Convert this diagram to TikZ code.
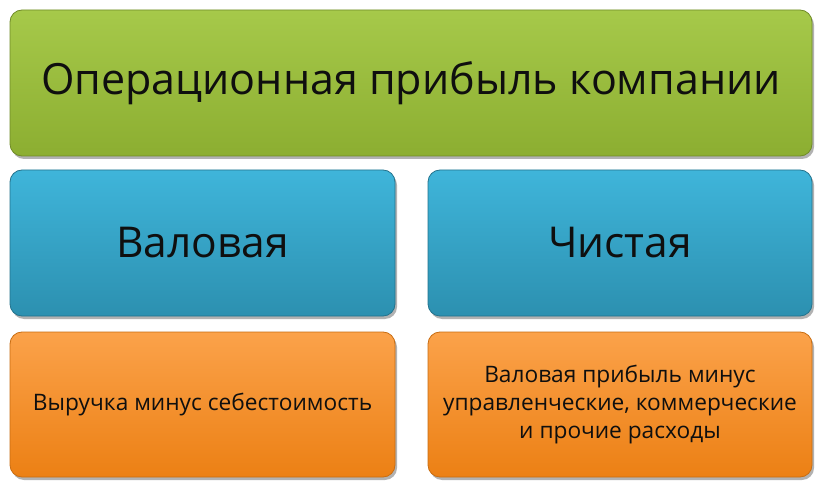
\documentclass[tikz,border=0pt]{standalone}
\usepackage{fontspec}
\setmainfont{Open Sans}
\usetikzlibrary{shadows}
\definecolor{gtop}{HTML}{A6C94A}
\definecolor{gbot}{HTML}{8CAE31}
\definecolor{btop}{HTML}{3FB5DA}
\definecolor{bbot}{HTML}{2C90B0}
\definecolor{otop}{HTML}{FBA24A}
\definecolor{obot}{HTML}{EC8014}
\definecolor{txt}{HTML}{0F0F0F}
\tikzset{
  panel/.style={rounded corners=12pt, draw=#1, line width=0.8pt, inner sep=0pt, align=center, text=txt,
    drop shadow={shadow xshift=2pt, shadow yshift=-3pt, opacity=0.3, fill=black}},
  greenbox/.style={panel=gbot!80!black, top color=gtop, bottom color=gbot},
  bluebox/.style={panel=bbot!80!black, top color=btop, bottom color=bbot},
  orangebox/.style={panel=obot!85!black, top color=otop, bottom color=obot},
}
\begin{document}
\begin{tikzpicture}[x=1pt,y=-1pt]
\useasboundingbox[fill=white] (0,0) rectangle (822,489);
\node[greenbox, minimum width=802pt, minimum height=146pt, font=\fontsize{43}{50}\selectfont] (title) at (411,83) {Операционная прибыль компании};
\node[bluebox, minimum width=385pt, minimum height=146pt, font=\fontsize{42.5}{48}\selectfont] (gross) at (202.5,243) {Валовая};
\node[bluebox, minimum width=384pt, minimum height=146pt, font=\fontsize{42.5}{48}\selectfont] (net) at (620,243) {Чистая};
\node[orangebox, minimum width=385pt, minimum height=145pt, font=\fontsize{22.7}{28}\selectfont] (grossdef) at (202.5,404.5) {Выручка минус себестоимость};
\node[orangebox, minimum width=384pt, minimum height=145pt, font=\fontsize{22.7}{28}\selectfont] (netdef) at (620,404.5) {Валовая прибыль минус\\управленческие, коммерческие\\и прочие расходы};
\end{tikzpicture}
\end{document}
